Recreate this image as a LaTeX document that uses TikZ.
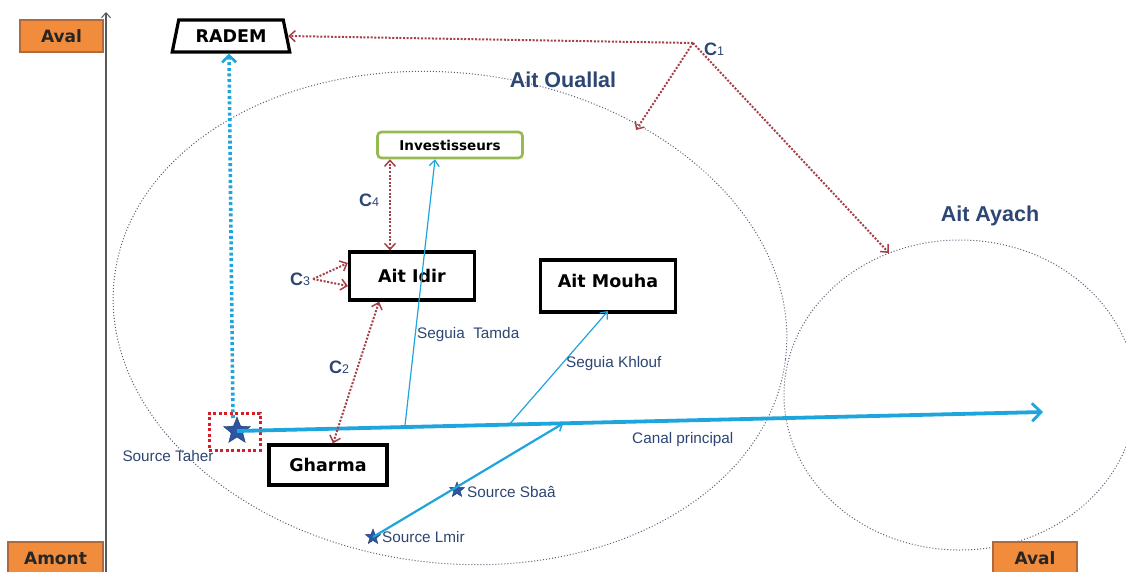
\documentclass[tikz,border=0pt]{standalone}
\usepackage{fontspec}
\setmainfont{Liberation Sans}
\newfontfamily\boxfont{DejaVu Sans}
\usetikzlibrary{arrows.meta,shapes.geometric,calc}
\definecolor{orangebox}{RGB}{240,140,60}
\definecolor{orangeedge}{RGB}{175,105,60}
\definecolor{canal}{RGB}{30,165,220}
\definecolor{conflict}{RGB}{165,65,70}
\definecolor{labelblue}{RGB}{45,70,115}
\definecolor{starblue}{RGB}{45,85,160}
\definecolor{ellgray}{RGB}{85,95,115}
\definecolor{invgreen}{RGB}{150,185,80}
\definecolor{framered}{RGB}{215,30,40}
\tikzset{
  axisbox/.style={draw=orangeedge, fill=orangebox, line width=1.5pt, inner sep=0pt,
    font=\boxfont\bfseries\fontsize{17}{20}\selectfont, text=black!85},
  actor/.style={draw=black, line width=3.2pt, fill=white, inner sep=0pt,
    font=\boxfont\bfseries\fontsize{17.5}{20}\selectfont, text=black},
  territory/.style={ellipse, draw=ellgray, dotted, line width=1pt, inner sep=0pt},
  terrlabel/.style={font=\bfseries\fontsize{21.5}{24}\selectfont, text=labelblue},
  srclabel/.style={font=\fontsize{15.3}{17}\selectfont, text=labelblue, inner sep=1pt},
  clabel/.style={font=\bfseries\fontsize{18}{20}\selectfont, text=labelblue, inner sep=0pt},
  conflictline/.style={draw=conflict, line width=2pt, dash pattern=on 2pt off 1.6pt},
  ctip/.style={-{Straight Barb[length=6pt,width=11pt,line width=1.5pt]}},
  cboth/.style={{Straight Barb[length=6pt,width=11pt,line width=1.5pt]}-{Straight Barb[length=6pt,width=11pt,line width=1.5pt]}},
  srcstar/.style={star, star points=5, star point ratio=2.3, fill=starblue, draw=starblue!70!black, line width=0.4pt, inner sep=0pt},
  seguia/.style={draw=canal, line width=1.2pt, -{Straight Barb[length=6pt,width=10pt,line width=1.2pt]}},
}
\newcommand{\cname}[1]{C{\fontsize{12.5}{14}\mdseries\selectfont #1}}
\begin{document}
\begin{tikzpicture}[x=1pt,y=-1pt]
\useasboundingbox (0,0) rectangle (1126,571);
\fill[white] (0,0) rectangle (1126,571);

% territories
\node[territory, minimum width=676, minimum height=490, rotate=-7] (ouallal) at (450,318) {};
\node[territory, minimum width=352, minimum height=310] (ayach) at (960,395) {};
\node[terrlabel] (louallal) at (563,80) {Ait Ouallal};
\node[terrlabel] (layach) at (990,216) {Ait Ayach};

% axis
\coordinate (axbot) at (106,580);
\coordinate (axtop) at (106,12);
\draw[black!65, line width=1.2pt, -{Straight Barb[length=5pt,width=9pt,line width=1pt]}] (axbot) -- (axtop);

% orange boxes
\node[axisbox, minimum width=83, minimum height=32] (avaltop) at (61.5,36) {Aval};
\node[axisbox, minimum width=95, minimum height=40, text depth=8pt] (amont) at (55.5,562) {Amont};
\node[axisbox, minimum width=84, minimum height=40, text depth=8pt] (avalbot) at (1035,562) {Aval};

% RADEM
\node[trapezium, trapezium stretches=true, trapezium left angle=71, trapezium right angle=71,
  draw=black, line width=3.2pt, fill=white, minimum width=118, minimum height=32, inner sep=0pt,
  font=\boxfont\bfseries\fontsize{17.5}{20}\selectfont] (radem) at (231,36) {RADEM};

% actors
\node[actor, minimum width=125, minimum height=48] (idir) at (412,276) {Ait Idir};
\node[actor, minimum width=135, minimum height=52, text depth=10pt] (mouha) at (608,286) {Ait Mouha};
\node[actor, minimum width=118, minimum height=40] (gharma) at (328,465) {Gharma};
\node[draw=invgreen, line width=2.6pt, rounded corners=4pt, fill=white, minimum width=145, minimum height=26,
  inner sep=0pt, font=\boxfont\bfseries\fontsize{13.5}{16}\selectfont] (invest) at (450,145) {Investisseurs};

% sources
\node[draw=framered, line width=3pt, dash pattern=on 3pt off 2.5pt, minimum width=51, minimum height=37, inner sep=0pt] (frame) at (234.5,431.5) {};
\node[srcstar, minimum size=28pt] (taher) at (237,431) {};
\node[srcstar, minimum size=16pt] (sbaa) at (457,490) {};
\node[srcstar, minimum size=16pt] (lmir) at (373,537) {};
\node[srclabel] (ltaher) at (168,456) {Source Taher};
\node[srclabel, anchor=west] (lsbaa) at (466,492) {Source Sbaâ};
\node[srclabel, anchor=west] (llmir) at (381,537) {Source Lmir};

% canal principal
\coordinate (canalend) at (1043,412);
\draw[draw=canal, line width=3.8pt, -{Straight Barb[length=9pt,width=18pt,line width=2.8pt]}] (taher.center) -- (canalend);
\node[srclabel, anchor=west] (lcanal) at (631,440) {Canal principal};

% seguias
\coordinate (tamdastart) at ($(taher.center)!0.2082!(canalend)$);
\coordinate (khloufstart) at ($(taher.center)!0.3377!(canalend)$);
\coordinate (lmirend) at ($(taher.center)!0.4048!(canalend)$);
\draw[seguia] (tamdastart) -- (invest.south -| 435,0);
\draw[seguia] (khloufstart) -- (608,311);
\draw[draw=canal, line width=2.2pt, -{Straight Barb[length=6pt,width=10pt,line width=1.5pt]}] (lmir.center) -- (lmirend);
\node[srclabel, anchor=west] (ltamda) at (416,335) {Seguia\ \ Tamda};
\node[srclabel, anchor=west] (lkhlouf) at (565,364) {Seguia Khlouf};

% RADEM supply
\draw[draw=canal, line width=3.6pt, dash pattern=on 3pt off 2.6pt, -{Straight Barb[length=7pt,width=14pt,line width=2.6pt]}] (233,418) -- (radem.bottom side -| 229,0);

% conflicts
\coordinate (c1) at (693,43);
\node[clabel, anchor=west] (lc1) at (704,49) {\cname{1}};
\draw[conflictline, ctip] (c1) -- (radem.east);
\coordinate (c1a) at (636,130);
\coordinate (c1b) at (889,253);
\draw[conflictline, ctip] (c1) -- (c1a);
\draw[conflictline, ctip] (c1) -- (c1b);

\draw[conflictline, cboth] (idir.north -| 390,0) -- (invest.south -| 390,0);
\node[clabel] (lc4) at (369,200) {\cname{4}};

\coordinate (c3) at (313,279);
\node[clabel] (lc3) at (300,279) {\cname{3}};
\draw[conflictline, ctip] (c3) -- (idir.west |- 0,263);
\draw[conflictline, ctip] (c3) -- (idir.west |- 0,286);

\draw[conflictline, cboth] (idir.south -| 379,0) -- (gharma.north -| 333,0);
\node[clabel] (lc2) at (339,367) {\cname{2}};
\end{tikzpicture}
\end{document}
